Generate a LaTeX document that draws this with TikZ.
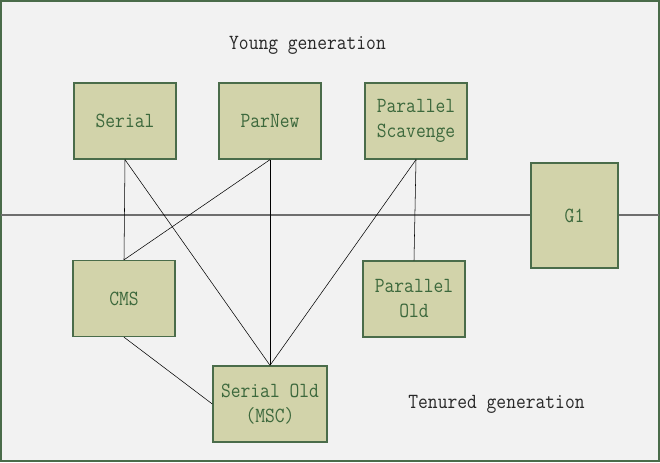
\documentclass[tikz,border=0pt]{standalone}
\usepackage{fontspec}
\setmonofont[FakeStretch=0.88]{Latin Modern Mono}
\definecolor{boxfill}{RGB}{210,211,170}
\definecolor{boxline}{RGB}{74,108,74}
\definecolor{boxtext}{RGB}{60,104,60}
\definecolor{bgfill}{RGB}{242,242,242}
\tikzset{
  gcbox/.style={draw=boxline, fill=boxfill, line width=1pt, text=boxtext, inner sep=0pt,
    align=center, minimum width=76.5pt, minimum height=57pt,
    font=\ttfamily\fontsize{16.2}{18.75}\selectfont},
  genlabel/.style={text={rgb,255:red,40;green,40;blue,40}, font=\ttfamily\fontsize{16.2}{18.75}\selectfont}
}
\begin{document}
\begin{tikzpicture}[x=0.75pt,y=0.75pt,yscale=-1,xscale=1]
\useasboundingbox (0,0) rectangle (660,462);
\draw [draw=boxline, fill=bgfill, line width=1.5pt] (1,1) rectangle (659,461);
\coordinate (lineL) at (1,215);
\coordinate (lineR) at (659,215);
\draw [color={rgb,255:red,110;green,110;blue,110}, line width=1.1pt] (lineL) -- (lineR);
\node [gcbox] (serial) at (125,121) {Serial};
\node [gcbox] (parnew) at (270,121) {ParNew};
\node [gcbox] (pscav) at (416,121) {Parallel\\Scavenge};
\node [gcbox, minimum width=65.25pt, minimum height=78.75pt] (g1) at (574.5,215.5) {G1};
\node [gcbox] (cms) at (124,298.5) {CMS};
\node [gcbox] (pold) at (414,299) {Parallel\\Old};
\node [gcbox, minimum width=85.5pt] (sold) at (270,404) {Serial Old\\(MSC)};
\draw (serial.south) -- (cms.north);
\draw (serial.south) -- (sold.north);
\draw (parnew.south) -- (cms.north);
\draw (parnew.south) -- (sold.north);
\draw (pscav.south) -- (sold.north);
\draw (pscav.south) -- (pold.north);
\draw (cms.south) -- (sold.west);
\node [genlabel] (young) at (307.5,45) {Young generation};
\node [genlabel] (tenured) at (496.5,404) {Tenured generation};
\end{tikzpicture}
\end{document}
